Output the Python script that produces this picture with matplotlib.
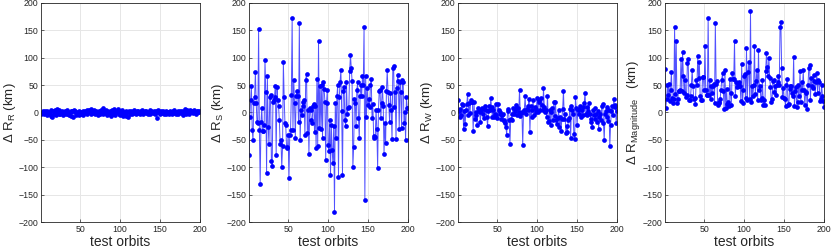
import numpy as np
import matplotlib.pyplot as plt

plt.rcParams['font.family'] = ['Liberation Sans', 'DejaVu Sans']
plt.rcParams['mathtext.fontset'] = 'custom'
plt.rcParams['mathtext.rm'] = 'Liberation Sans'
plt.rcParams['mathtext.it'] = 'Liberation Sans'

orbits = np.arange(1, 201)

# radial error (km)
dR_R = [-3, -1, 2, 0, -2, 3, 1, -4, 2, -1,
        1, -3, 4, -6, -8, 2, -2, 5, 3, -5,
        7, 1, -3, 4, -2, 0, 3, -4, 1, -1,
        2, -3, 0, 4, -2, -5, 1, 3, -6, 2,
        -8, 4, 1, 3, -4, -2, 0, -5, 2, -3,
        1, -2, 3, -4, 0, 2, -1, -3, 4, 1,
        5, 2, -2, 6, 3, -1, 4, 0, -3, 2,
        1, -4, 3, 0, -2, 5, 1, 8, -3, 2,
        -1, 4, -5, 2, 0, -3, 3, -6, 1, 4,
        -2, 6, 0, -4, 3, 1, 7, -2, 2, -5,
        3, -1, 4, -6, 0, -3, 2, -7, 1, -9,
        2, -2, 0, 3, -3, 1, -1, 4, 0, -2,
        2, 3, -1, 1, -3, 2, 0, 4, -2, 1,
        3, -1, 2, 0, -3, 1, 4, -2, 2, 0,
        -1, 3, 1, -3, 2, -10, 0, 4, 1, -2,
        2, 0, -1, 3, -2, 1, 2, -3, 0, 1,
        -2, 3, 1, 0, -3, 2, -1, 4, 1, -2,
        0, 2, -3, 1, 3, -1, 0, 2, -4, 1,
        7, 3, -2, 4, 1, -3, 2, 5, 0, 3,
        -1, 2, 4, 0, -2, 3, 1, 2, 0, 3]

# along-track error (km)
dR_S = [-77, -9, 23, 49, -32, -50, 17, 28, 74, 17,
        -17, -20, 152, -32, -130, -17, 8, -34, -34, -23,
        96, 37, -110, 67, -26, -58, 29, 32, -88, -97,
        20, 23, 29, 49, -77, 47, 23, 11, -14, -58,
        -50, -100, -62, 93, 29, -20, -23, -63, -65, -41,
        -120, -41, -32, 32, 173, -32, 60, 18, -47, 30,
        40, 30, -17, 163, -50, 5, -5, 11, 20, 23,
        -41, 60, 71, -38, 5, -76, 8, 5, -14, -20,
        11, 15, -35, 12, -65, 62, -61, 130, -29, 49,
        -30, 50, -47, 55, 43, 20, -87, 17, 42, -60,
        -70, -13, -115, -22, -69, -92, -25, -181, 17, -47,
        30, 50, -118, 28, 56, 78, 2, -114, 40, 47,
        -13, -25, 55, -2, 8, 10, 76, 105, 82, 58,
        -99, -63, 24, 17, -25, 42, 55, -10, -47, 30,
        50, 30, 66, 50, 156, -160, 66, -8, 44, 13,
        24, 10, 50, 61, -10, 15, -43, -47, -45, 5,
        -30, -102, 5, 39, 42, -10, 17, 47, 12, -75,
        -20, -55, 40, 77, 37, 13, -18, 36, 5, -49,
        81, 85, 10, 37, -48, 45, 68, 57, -30, 55,
        38, -28, 60, 55, -20, 0, -50, 28, 9, 9]

# cross-track error (km)
dR_W = [22, 2, -9, 7, -5, 15, 13, -31, 3, -21,
        5, 15, 34, -4, 17, -1, 23, 20, 19, -33,
        19, -12, 0, -4, -23, 8, 3, 0, -17, 4,
        9, -3, 7, -10, 12, 5, -8, -25, 2, 12,
        4, 26, 10, -9, 4, -8, -2, 15, -5, -10,
        15, 5, -2, 1, -11, -5, -2, -15, -13, -19,
        -26, -42, 6, 3, -13, -58, -11, -13, -2, 9,
        -3, 3, 9, 14, -5, 8, 0, 42, -6, -1,
        0, -60, 1, 5, 30, -3, 6, 5, 12, 24,
        -35, 12, -8, 4, 22, -5, 10, 1, 6, 27,
        1, 23, 19, 4, 26, 14, 4, 44, 10, 0,
        4, -8, 31, -17, -15, 4, -23, 0, 9, -14,
        19, -7, 20, -14, -21, -10, 4, -27, -9, -33,
        -11, 6, 40, -11, -3, -38, -24, -36, -14, -10,
        7, -46, 12, 4, -2, -40, -48, 28, 9, -23,
        4, 7, -2, 12, -9, 4, -5, 10, 18, 36,
        -2, -5, 10, 3, 18, -2, -11, -17, -27, 4,
        -4, 9, -12, -2, -18, 3, -30, -8, -2, -14,
        12, 15, -19, -51, -3, 2, 10, -8, -15, 4,
        -61, -22, 3, 12, -5, 25, 10, 13, -19, 2]

# magnitude of position error (km)
dR_mag = [80, 9, 25, 50, 32, 52, 21, 42, 74, 27,
          18, 25, 156, 33, 131, 17, 24, 40, 39, 41,
          98, 39, 110, 67, 35, 59, 29, 32, 90, 97,
          22, 23, 30, 50, 78, 48, 24, 27, 15, 59,
          51, 103, 63, 93, 30, 22, 23, 65, 65, 42,
          121, 41, 32, 32, 173, 32, 60, 24, 49, 36,
          48, 52, 18, 163, 52, 58, 13, 17, 20, 25,
          41, 60, 72, 40, 7, 77, 8, 43, 16, 20,
          11, 62, 35, 13, 72, 62, 61, 130, 31, 55,
          46, 52, 48, 55, 48, 21, 88, 17, 42, 66,
          70, 26, 117, 23, 74, 93, 25, 186, 20, 48,
          30, 51, 122, 33, 58, 78, 23, 114, 41, 49,
          23, 26, 59, 14, 23, 14, 76, 108, 83, 67,
          100, 63, 47, 20, 25, 57, 60, 37, 49, 32,
          50, 55, 67, 50, 156, 165, 82, 29, 45, 27,
          24, 12, 50, 62, 14, 16, 43, 48, 48, 36,
          30, 102, 11, 39, 46, 10, 20, 50, 30, 75,
          20, 56, 42, 77, 41, 13, 35, 37, 7, 51,
          82, 86, 22, 63, 48, 45, 69, 58, 34, 55,
          72, 36, 60, 56, 21, 25, 51, 31, 21, 10]

series = [dR_R, dR_S, dR_W, dR_mag]
ylabels = [r'$\Delta$ R$_{\mathrm{R}}$ (km)', r'$\Delta$ R$_{\mathrm{S}}$ (km)',
           r'$\Delta$ R$_{\mathrm{W}}$ (km)', r'$\Delta$ R$_{\mathrm{Magnitude}}$   (km)']
lefts = [41, 249, 458, 665]

fig = plt.figure(figsize=(8.31, 2.49), dpi=100)
for vals, lab, lx in zip(series, ylabels, lefts):
    ax = fig.add_axes([lx / 831, 27 / 249, 159 / 831, 219 / 249])
    ax.plot(orbits, vals, '-', color='#3333ff', lw=0.7, alpha=0.85)
    ax.plot(orbits, vals, 'o', color='#0000ff', ms=3.4, markeredgewidth=0)
    ax.set_xlim(1, 200)
    ax.set_ylim(-200, 200)
    ax.set_xticks([50, 100, 150, 200])
    ax.set_yticks(np.arange(-200, 201, 50))
    ax.grid(True, color='#e6e6e6', lw=0.7)
    ax.set_axisbelow(True)
    ax.tick_params(direction='in', length=2, width=0.5, labelsize=6.3,
                   colors='#262626', pad=2)
    for s in ax.spines.values():
        s.set_color('#262626')
        s.set_linewidth(0.6)
    ax.set_xlabel('test orbits', fontsize=10, labelpad=1, color='#262626')
    ax.set_ylabel(lab, fontsize=9.5, labelpad=0, color='#262626')

fig.savefig('out.png', dpi=100)
